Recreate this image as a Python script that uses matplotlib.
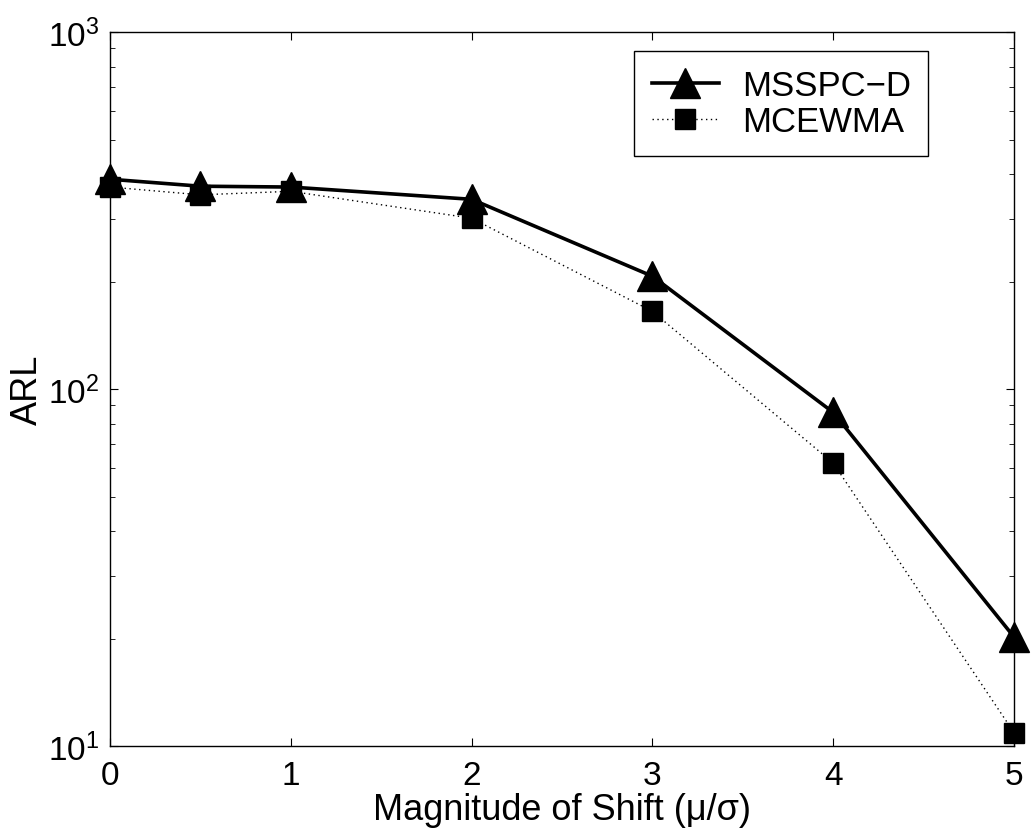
import numpy as np
import matplotlib
matplotlib.use("Agg")
import matplotlib.pyplot as plt

plt.rcParams['font.family'] = ['Liberation Sans', 'DejaVu Sans']
plt.rcParams['mathtext.fontset'] = 'custom'
plt.rcParams['mathtext.rm'] = 'Liberation Sans'
plt.rcParams['mathtext.it'] = 'Liberation Sans:italic'

# shift magnitudes and ARL values
shift = [0, 0.5, 1, 2, 3, 4, 5]
arl_msspc = [387, 370, 368, 340, 207, 86, 20.2]
arl_mcewma = [368, 350, 358, 301, 165, 62, 10.9]

fig = plt.figure(figsize=(10.32, 8.37), dpi=100)
ax = fig.add_axes([0.1066, 0.1075, 0.876, 0.853])

ax.plot(shift, arl_msspc, color='black', lw=2.6, marker='^', ms=21,
        label='MSSPC\u2212D', clip_on=False, zorder=3)
ax.plot(shift, arl_mcewma, color='black', lw=1.0, ls=(0, (1, 2.5)), marker='s',
        ms=14, label='MCEWMA', clip_on=False, zorder=2)

ax.set_yscale('log')
ax.set_ylim(10, 1000)
ax.set_xlim(0, 5)
ax.set_xticks([0, 1, 2, 3, 4, 5])

ax.tick_params(which='both', direction='in', top=True, right=True,
               labelsize=24, pad=10)
ax.tick_params(axis='y', pad=8)
ax.tick_params(which='major', length=6)
ax.tick_params(which='minor', length=3.5)
for s in ax.spines.values():
    s.set_linewidth(1.0)

ax.set_xlabel('Magnitude of Shift (\u03bc/\u03c3)', fontsize=26, labelpad=1)
ax.set_ylabel('ARL', fontsize=26, labelpad=2)

leg = ax.legend(loc='upper right', bbox_to_anchor=(0.905, 0.973), fontsize=25,
                fancybox=False, edgecolor='black', framealpha=1,
                borderaxespad=0, handlelength=1.95, handletextpad=0.65,
                borderpad=0.5, labelspacing=0.1)
leg.get_frame().set_linewidth(1.0)

fig.savefig('out.png', dpi=100)
